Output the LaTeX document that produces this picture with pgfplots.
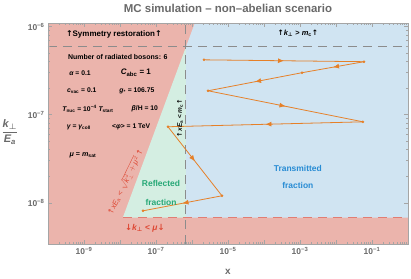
\documentclass[border=0pt]{standalone}
\usepackage{amsmath}
\usepackage{pgfplots}
\pgfplotsset{compat=1.18}
\usepackage{fontspec}
\setmainfont{Liberation Sans}
\newfontfamily\djv{DejaVu Sans}
\usetikzlibrary{arrows.meta,decorations.markings}
\definecolor{pinkc}{RGB}{235,180,172}
\definecolor{bluec}{RGB}{208,228,242}
\definecolor{greenc}{RGB}{212,238,226}
\definecolor{orangec}{RGB}{230,128,40}
\definecolor{redt}{RGB}{222,72,52}
\definecolor{greent}{RGB}{38,168,118}
\definecolor{bluet}{RGB}{40,140,212}
\definecolor{tickc}{RGB}{105,105,105}
\definecolor{framec}{RGB}{165,165,165}
\definecolor{dashc}{RGB}{140,140,140}
\definecolor{dashr}{RGB}{225,125,115}
\newcommand{\up}{{\djv ↑}}
\newcommand{\dn}{{\djv ↓}}
\newcommand{\perpc}{{\djv ⊥}}
\newcommand{\sub}[1]{\textsubscript{#1}}
\tikzset{seg/.style={orangec, line width=0.8pt, no markers,
  postaction={decorate, decoration={markings, mark=at position 0.5 with {\arrow{Latex[length=6pt,width=5pt]}}}}},
  lbl/.style={font=\bfseries\fontsize{6.8}{7.5}\selectfont}}
\begin{document}
\begin{tikzpicture}
\useasboundingbox (0,0) rectangle (411bp,279bp);
\begin{axis}[at={(48bp,35bp)}, anchor=south west, width=360bp, height=221bp, scale only axis,
  xmode=log, ymode=log, xmin=1e-10, xmax=1, ymin=3.4e-9, ymax=1.1e-6,
  axis on top, clip=false,
  xtick={1e-10,1e-9,1e-8,1e-7,1e-6,1e-5,1e-4,1e-3,1e-2,1e-1,1},
  xticklabels={,10\textsuperscript{−9},,10\textsuperscript{−7},,10\textsuperscript{−5},,10\textsuperscript{−3},,10\textsuperscript{−1},},
  ytick={1e-8,1e-7,1e-6},
  yticklabels={10\textsuperscript{−8},10\textsuperscript{−7},10\textsuperscript{−6}},
  tick label style={font=\bfseries\fontsize{8.5}{9}\selectfont, text=tickc},
  axis line style={framec, line width=0.6pt},
  every tick/.style={framec, line width=0.5pt},
  major tick length=4bp, minor tick length=2bp,
]
% regions
\addplot[fill=pinkc, draw=none] coordinates {(1e-10,3.4e-9) (1,3.4e-9) (1,1.1e-6) (1e-10,1.1e-6)} -- cycle;
\addplot[fill=bluec, draw=none] coordinates {(1.2e-6,1.1e-6) (1,1.1e-6) (1,6.8e-9) (6.8e-7,6.8e-9) (6.8e-7,5.9e-7)} -- cycle;
\addplot[fill=greenc, draw=none] coordinates {(1.2e-8,6.8e-9) (6.8e-7,6.8e-9) (6.8e-7,5.9e-7)} -- cycle;
% boundaries
\addplot[dashc, line width=1pt, dash pattern=on 9bp off 6bp] coordinates {(1e-10,5.9e-7) (1,5.9e-7)};
\addplot[dashc, line width=1pt, dash pattern=on 9bp off 6bp] coordinates {(6.8e-7,3.4e-9) (6.8e-7,1.1e-6)};
\addplot[dashr, line width=1pt, dash pattern=on 9bp off 6bp] coordinates {(1.2e-8,6.8e-9) (1,6.8e-9)};
% MC path
\addplot[seg] coordinates {(2.15e-6,4.2e-7) (0.06,4.0e-7)};
\addplot[seg] coordinates {(0.06,4.0e-7) (1.14e-3,3.0e-7)};
\addplot[seg] coordinates {(1.14e-3,3.0e-7) (2.8e-6,1.87e-7)};
\addplot[seg] coordinates {(2.8e-6,1.87e-7) (0.056,8.3e-8)};
\addplot[seg] coordinates {(0.056,8.3e-8) (2.15e-7,7.3e-8)};
\addplot[seg] coordinates {(2.15e-7,7.3e-8) (6.8e-6,1.2e-8)};
\addplot[seg] coordinates {(6.8e-6,1.2e-8) (4.35e-8,8.1e-9)};
\addplot[only marks, mark=*, mark size=1.1pt, orangec] coordinates {(2.15e-6,4.2e-7) (0.06,4.0e-7) (1.14e-3,3.0e-7) (2.8e-6,1.87e-7) (0.056,8.3e-8) (2.15e-7,7.3e-8) (6.8e-6,1.2e-8) (4.35e-8,8.1e-9)};
% texts
\node[font=\bfseries\fontsize{11.5}{12}\selectfont, text=tickc] at (rel axis cs:0.5,1.068) {MC simulation – non–abelian scenario};
\node[font=\bfseries\fontsize{10}{11}\selectfont, text=tickc] at (rel axis cs:0.5,-0.127) {x};
\node[text=tickc, font=\fontsize{11}{12}\selectfont] at (rel axis cs:-0.106,0.507) {$\dfrac{\text{\bfseries\itshape k}_{\boldsymbol{\perp}}}{\text{\bfseries\itshape E}_{\text{\bfseries\itshape a}}}$};
\node[font=\bfseries\fontsize{8}{9}\selectfont] at (rel axis cs:0.183,0.950) {\up Symmetry restoration\up};
\node[lbl, font=\bfseries\fontsize{7}{8}\selectfont] at (rel axis cs:0.194,0.846) {Number of radiated bosons: 6};
\node[lbl] at (rel axis cs:0.089,0.774) {{\itshape α} = 0.1};
\node[font=\bfseries\fontsize{8}{9}\selectfont] at (rel axis cs:0.244,0.774) {{\itshape C}\sub{abc} = 1};
\node[lbl] at (rel axis cs:0.094,0.692) {{\itshape c}\sub{vac} = 0.1};
\node[lbl] at (rel axis cs:0.247,0.692) {{\itshape g}\sub{*} = 106.75};
\node[lbl] at (rel axis cs:0.111,0.611) {{\itshape T}\sub{nuc} = 10\textsuperscript{−4} {\itshape T}\sub{start}};
\node[lbl] at (rel axis cs:0.269,0.611) {{\itshape β}/H = 10};
\node[lbl] at (rel axis cs:0.086,0.529) {{\itshape γ} = {\itshape γ}\sub{coll}};
\node[lbl] at (rel axis cs:0.231,0.529) {<{\itshape φ}> = 1 TeV};
\node[lbl, font=\bfseries\fontsize{7.2}{8}\selectfont] at (rel axis cs:0.097,0.403) {{\itshape μ} = {\itshape m}\sub{sat}};
\node[text=redt, rotate=64, font=\fontsize{7.6}{8}\selectfont] at (rel axis cs:0.215,0.28) {\up{\itshape xE}\sub{a} < $\sqrt{\text{\itshape k}_{\perp}^{2}+\text{\itshape μ}^{2}}$\,\up};
\node[text=greent, font=\bfseries\fontsize{8.5}{9}\selectfont] at (rel axis cs:0.314,0.276) {Reflected};
\node[text=greent, font=\bfseries\fontsize{8.5}{9}\selectfont] at (rel axis cs:0.314,0.190) {fraction};
\node[text=bluet, font=\bfseries\fontsize{8.5}{9}\selectfont] at (rel axis cs:0.694,0.344) {Transmitted};
\node[text=bluet, font=\bfseries\fontsize{8.5}{9}\selectfont] at (rel axis cs:0.694,0.267) {fraction};
\node[text=redt, font=\bfseries\fontsize{8.5}{9}\selectfont] at (rel axis cs:0.269,0.072) {\dn{\itshape k}\sub{\perpc} < {\itshape μ}\dn};
\node[font=\bfseries\fontsize{7.5}{8}\selectfont] at (rel axis cs:0.694,0.955) {\up{\itshape k}\sub{\perpc} > {\itshape m}\sub{c}\up};
\node[rotate=90, font=\bfseries\fontsize{6.5}{7}\selectfont] at (rel axis cs:0.367,0.570) {\up{\itshape xE}\sub{a} < {\itshape m}\sub{c}\up};
\end{axis}
\end{tikzpicture}
\end{document}
